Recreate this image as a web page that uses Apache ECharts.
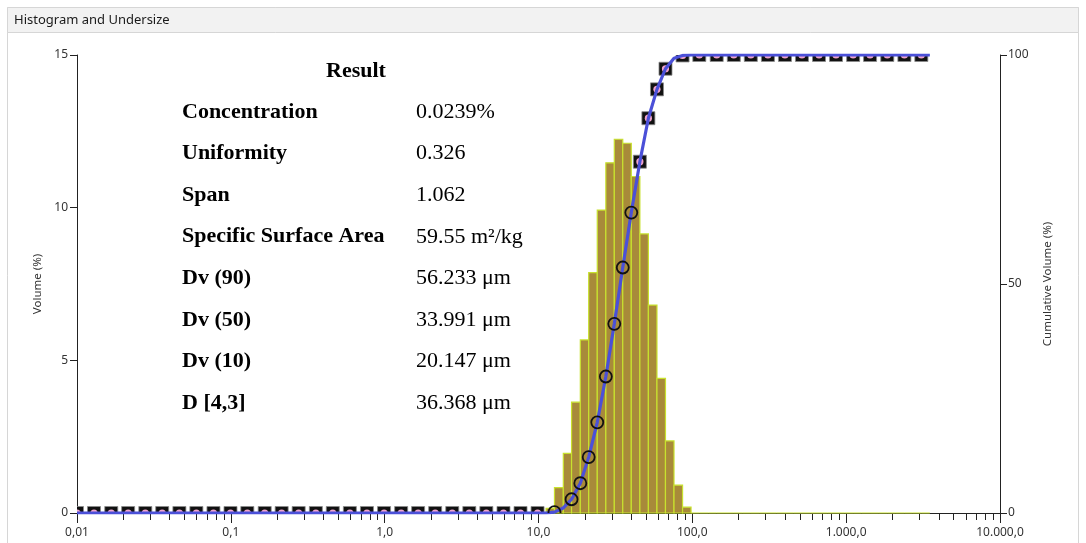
<!DOCTYPE html>
<html><head><meta charset="utf-8">
<script src="https://cdn.jsdelivr.net/npm/echarts@6/dist/echarts.min.js"></script>
<style>html,body{margin:0;padding:0;background:#fff}#c{width:1086px;height:543px}</style>
</head><body><div id="c"></div>
<script>
// Size classes (µm), class edges
const sizeClasses = [0.0100,0.0114,0.0129,0.0147,0.0167,0.0189,0.0215,0.0244,0.0278,0.0315,
  0.0358,0.0407,0.0463,0.0526,0.0597,0.0679,0.0771,0.0876,0.0995,0.113,
  0.128,0.146,0.166,0.188,0.214,0.243,0.276,0.314,0.357,0.405,
  0.460,0.523,0.594,0.675,0.767,0.872,0.991,1.13,1.28,1.45,
  1.65,1.88,2.13,2.42,2.75,3.12,3.55,4.03,4.58,5.21,
  5.92,6.72,7.64,8.68,9.86,11.2,12.7,14.5,16.4,18.7,
  21.2,24.1,27.4,31.1,35.3,40.1,45.6,51.8,58.9,66.9,
  76.0,86.4,98.1,111,127,144,163,186,211,240,
  272,310,352,400,454,516,586,666,756,859,
  976,1110,1260,1430,1630,1850,2100,2390,2710,3080,3500];
// Histogram volume (%) for classes starting at class index 55 (11.2 µm)
const histFirstClass = 55;
const volume = [0.15,0.83,1.95,3.63,5.67,7.87,9.92,11.47,12.24,12.11,
  11.02,9.14,6.81,4.41,2.36,0.91,0.19,0,0,0,
  0,0,0,0,0,0,0,0,0,0,
  0,0,0,0,0,0,0,0,0,0,
  0,0,0,0,0];
// Cumulative undersize (%) at each class edge
const undersize = [0,0,0,0,0,0,0,0,0,0,
  0,0,0,0,0,0,0,0,0,0,
  0,0,0,0,0,0,0,0,0,0,
  0,0,0,0,0,0,0,0,0,0,
  0,0,0,0,0,0,0,0,0,0,
  0,0,0,0,0,0,0.2,1.1,3.0,6.5,
  12.2,19.8,29.8,41.3,53.6,65.6,76.7,86.2,92.5,97.0,
  99.3,99.9,100,100,100,100,100,100,100,100,
  100,100,100,100,100,100,100,100,100,100,
  100,100,100,100,100,100,100,100,100,100,100];
const squareMarkerClasses = [0,2,4,6,8,10,12,14,16,18,20,22,24,26,28,30,32,34,36,38,40,42,44,46,48,50,52,54,
  66,67,68,69,71,73,75,77,79,81,83,85,87,89,91,93,95,97,99];
const circleMarkerClasses = [56,58,59,60,61,62,63,64,65];
const majorTicks = [0.01,0.1,1,10,100,1000,10000];
const majorTickLabels = ['0,01','0,1','1,0','10,0','100,0','1.000,0','10.000,0'];
const minorTicks = [0.02,0.03,0.04,0.05,0.06,0.07,0.08,0.09,
  0.2,0.3,0.4,0.5,0.6,0.7,0.8,0.9,
  2,3,4,5,6,7,8,9,
  20,30,40,50,60,70,80,90,
  200,300,400,500,600,700,800,900,
  2000,3000,4000,5000,6000,7000,8000,9000];
const resultTitle = 'Result';
const resultLabels = ['Concentration','Uniformity','Span','Specific Surface Area','Dv (90)','Dv (50)','Dv (10)','D [4,3]'];
const resultValues = ['0.0239%','0.326','1.062','59.55 m²/kg','56.233 μm','33.991 μm','20.147 μm','36.368 μm'];

const histData = volume.map((v, i) => [sizeClasses[histFirstClass + i], sizeClasses[histFirstClass + i + 1], v]);
const lineData = sizeClasses.map((s, k) => [s, undersize[k]]);
const squareData = squareMarkerClasses.map(k => [sizeClasses[k], undersize[k]]);
const circleData = circleMarkerClasses.map(k => [sizeClasses[k], undersize[k]]);

const axisColor = '#222';
const labelFont = {fontSize: 12, color: '#333', fontFamily: 'Noto Sans'};

const graphics = [
  {type:'rect', shape:{x:7.5,y:7.5,width:1071,height:600}, style:{fill:'none', stroke:'#d6d6d6', lineWidth:1}, z:0},
  {type:'rect', shape:{x:7.5,y:7.5,width:1071,height:25}, style:{fill:'#f2f2f2', stroke:'#d6d6d6', lineWidth:1}, z:0},
  {type:'text', x:14, y:20, style:{text:'Histogram and Undersize', fontSize:13, fontFamily:'Noto Sans', fill:'#1a1a1a', verticalAlign:'middle'}},
  {type:'text', x:356, y:71, style:{text:resultTitle, fontSize:22, fontWeight:'bold', fontFamily:'Liberation Serif', fill:'#000', align:'center', verticalAlign:'middle'}}
];
resultLabels.forEach((l, i) => {
  const y = 112 + i * 41.6;
  graphics.push({type:'text', x:182, y:y, style:{text:l, fontSize:22, fontWeight:'bold', fontFamily:'Liberation Serif', fill:'#000', verticalAlign:'middle'}});
  graphics.push({type:'text', x:416, y:y, style:{text:resultValues[i], fontSize:22, fontFamily:'Liberation Serif', fill:'#000', verticalAlign:'middle'}});
});

const chart = echarts.init(document.getElementById('c'), null, {renderer:'canvas'});
chart.setOption({
  animation: false,
  backgroundColor: '#fff',
  grid: {left:77, right:86, top:55, bottom:30, containLabel:false},
  xAxis: [
    {type:'log', logBase:10, min:0.01, max:10000, position:'bottom',
     axisLine:{show:true, lineStyle:{color:axisColor, width:1}},
     axisTick:{show:true, length:10, customValues:majorTicks, lineStyle:{color:axisColor, width:1}},
     axisLabel:Object.assign({show:true, margin:14, customValues:majorTicks,
       formatter:(v)=>majorTickLabels[Math.round(Math.log10(v)) + 2]}, labelFont),
     splitLine:{show:false}, minorTick:{show:false}},
    {type:'log', logBase:10, min:0.01, max:10000, position:'bottom',
     axisLine:{show:false},
     axisTick:{show:true, length:7, customValues:minorTicks, lineStyle:{color:axisColor, width:1}},
     axisLabel:{show:false}, splitLine:{show:false}, minorTick:{show:false}}
  ],
  yAxis: [
    {type:'value', min:0, max:15, interval:5, position:'left',
     name:'Volume (%)', nameLocation:'middle', nameGap:30, nameRotate:90,
     nameTextStyle:{fontSize:11.5, color:'#333', fontFamily:'Noto Sans'},
     axisLine:{show:true, lineStyle:{color:axisColor}},
     axisTick:{show:true, length:7, lineStyle:{color:axisColor}},
     axisLabel:Object.assign({margin:9}, labelFont), splitLine:{show:false}},
    {type:'value', min:0, max:100, interval:50, position:'right',
     name:'Cumulative Volume (%)', nameLocation:'middle', nameGap:42, nameRotate:90,
     nameTextStyle:{fontSize:11.5, color:'#333', fontFamily:'Noto Sans'},
     axisLine:{show:true, lineStyle:{color:axisColor}},
     axisTick:{show:true, length:7, lineStyle:{color:axisColor}},
     axisLabel:Object.assign({margin:8}, labelFont), splitLine:{show:false}}
  ],
  series: [
    {type:'custom', name:'Histogram', xAxisIndex:0, yAxisIndex:0, z:1, data:histData,
     encode:{x:[0,1], y:2},
     renderItem:(params, api) => {
       const a = api.coord([api.value(0), 0]);
       const b = api.coord([api.value(1), api.value(2)]);
       return {type:'rect', shape:{x:a[0], y:b[1], width:b[0]-a[0], height:a[1]-b[1]},
               style:{fill:'#a88a3a', stroke:'#c8e22e', lineWidth:1.2}};
     }},
    {type:'custom', name:'Square markers', xAxisIndex:0, yAxisIndex:1, z:3, clip:true, data:squareData,
     encode:{x:0, y:1},
     renderItem:(params, api) => {
       const c = api.coord([api.value(0), api.value(1)]);
       return {type:'group', children:[
         {type:'rect', shape:{x:c[0]-6.5, y:c[1]-6.5, width:13, height:13}, style:{fill:'#111', stroke:'#8a8a8a', lineWidth:0.8}},
         {type:'circle', shape:{cx:c[0], cy:c[1], r:3.6}, style:{fill:'#f0a3cc'}}
       ]};
     }},
    {type:'line', name:'Undersize', xAxisIndex:0, yAxisIndex:1, z:4, data:lineData,
     showSymbol:false, lineStyle:{color:'#4b50d8', width:3.2}, clip:true},
    {type:'custom', name:'Circle markers', xAxisIndex:0, yAxisIndex:1, z:5, clip:true, data:circleData,
     encode:{x:0, y:1},
     renderItem:(params, api) => {
       const c = api.coord([api.value(0), api.value(1)]);
       return {type:'circle', shape:{cx:c[0], cy:c[1], r:6}, style:{fill:'none', stroke:'#111', lineWidth:1.8}};
     }}
  ],
  graphic: graphics
});
</script></body></html>
